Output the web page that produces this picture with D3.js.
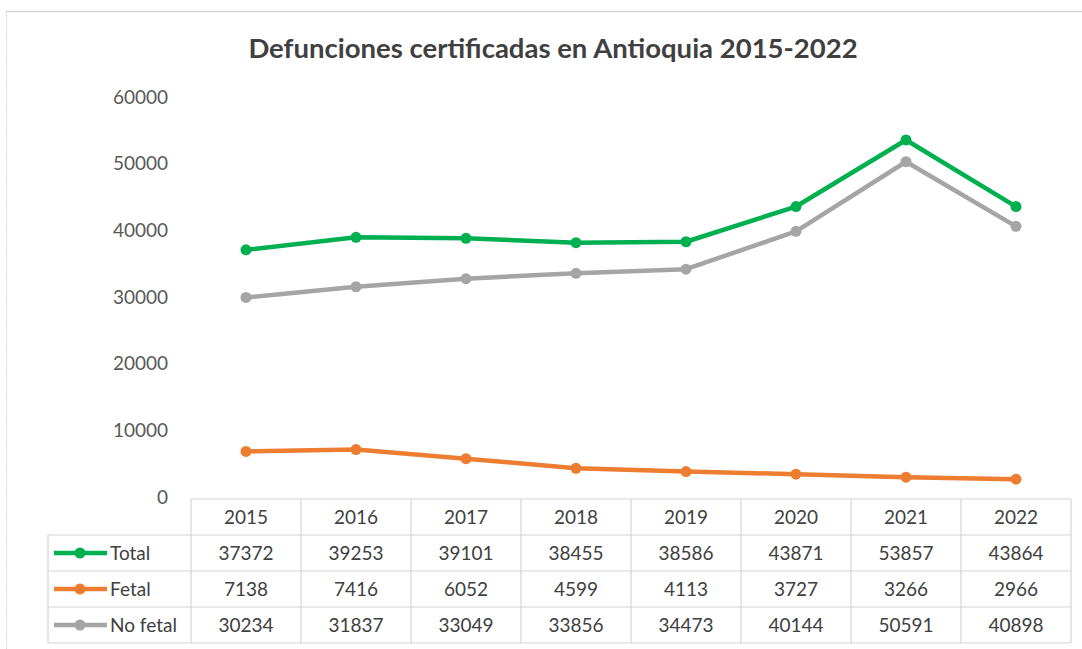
<!DOCTYPE html>
<html>
<head>
<meta charset="utf-8">
<script src="https://cdn.jsdelivr.net/npm/d3@7"></script>
<style>
  body { margin: 0; background: #fff; }
  text { font-family: Lato, "Open Sans", sans-serif; }
</style>
</head>
<body>
<div id="chart"></div>
<script>
// data
const years = ['2015', '2016', '2017', '2018', '2019', '2020', '2021', '2022'];
const total = [37372, 39253, 39101, 38455, 38586, 43871, 53857, 43864];
const fetal = [7138, 7416, 6052, 4599, 4113, 3727, 3266, 2966];
const noFetal = [30234, 31837, 33049, 33856, 34473, 40144, 50591, 40898];
const yTicks = [0, 10000, 20000, 30000, 40000, 50000, 60000];

const series = [
  {name: 'Total', values: total, color: '#00b050'},
  {name: 'Fetal', values: fetal, color: '#ed7d31'},
  {name: 'No fetal', values: noFetal, color: '#a5a5a5'}
];

const W = 1082, H = 649;
const tableLeft = 48, colLeft = 191, colW = 110;
const headTop = 499, rowH = 36;

const svg = d3.select('#chart').append('svg')
  .attr('width', W).attr('height', H);

// chart frame: only top and left edges show in the reference
svg.append('line')
  .attr('x1', 6).attr('x2', W).attr('y1', 11.5).attr('y2', 11.5)
  .attr('stroke', '#d9d9d9').attr('stroke-width', 1.5);
svg.append('line')
  .attr('x1', 6.5).attr('x2', 6.5).attr('y1', 11).attr('y2', H)
  .attr('stroke', '#d9d9d9').attr('stroke-width', 1).attr('stroke-dasharray', '2,1');

svg.append('text')
  .attr('x', 553).attr('y', 58)
  .attr('text-anchor', 'middle')
  .attr('font-size', 27.5).attr('font-weight', 'bold')
  .attr('fill', '#404040')
  .text('Defunciones certificadas en Antioquia 2015-2022');

const x = d3.scaleBand().domain(years)
  .range([colLeft, colLeft + colW * years.length]);
const y = d3.scaleLinear().domain([0, 60000]).range([499, 99]);

// y axis labels only
const yAxis = svg.append('g')
  .attr('transform', 'translate(168,-2)')
  .call(d3.axisLeft(y).tickValues(yTicks).tickSize(0).tickPadding(0).tickFormat(d3.format('d')));
yAxis.select('.domain').remove();
yAxis.selectAll('text')
  .attr('font-size', 19).attr('fill', '#595959')
  .style('font-family', 'Lato, sans-serif');

const line = d3.line()
  .x((d, i) => x(years[i]) + x.bandwidth() / 2)
  .y(d => y(d));

series.forEach(s => {
  svg.append('path')
    .datum(s.values)
    .attr('d', line)
    .attr('fill', 'none')
    .attr('stroke', s.color)
    .attr('stroke-width', 4.5)
    .attr('stroke-linejoin', 'round');
  svg.selectAll(null)
    .data(s.values)
    .enter().append('circle')
    .attr('cx', (d, i) => x(years[i]) + x.bandwidth() / 2)
    .attr('cy', d => y(d))
    .attr('r', 5.5)
    .attr('fill', s.color);
});

// data table
const grid = svg.append('g')
  .attr('stroke', '#d4d4d4').attr('stroke-width', 1.2).attr('fill', 'none');
const right = colLeft + colW * years.length;
const bottom = headTop + rowH * 4;
// horizontal lines
grid.append('line').attr('x1', colLeft).attr('x2', right).attr('y1', headTop).attr('y2', headTop);
for (let r = 1; r <= 4; r++) {
  grid.append('line').attr('x1', tableLeft).attr('x2', right)
    .attr('y1', headTop + rowH * r).attr('y2', headTop + rowH * r);
}
// vertical lines
grid.append('line').attr('x1', tableLeft).attr('x2', tableLeft)
  .attr('y1', headTop + rowH).attr('y2', bottom);
for (let c = 0; c <= years.length; c++) {
  grid.append('line').attr('x1', colLeft + colW * c).attr('x2', colLeft + colW * c)
    .attr('y1', headTop).attr('y2', bottom);
}

svg.selectAll('.yr')
  .data(years)
  .enter().append('text')
  .attr('x', d => x(d) + x.bandwidth() / 2)
  .attr('y', headTop + rowH / 2 + 7)
  .attr('text-anchor', 'middle')
  .attr('font-size', 19).attr('fill', '#404040')
  .text(d => d);

series.forEach((s, r) => {
  const cy = headTop + rowH * (r + 1) + rowH / 2;
  svg.append('line')
    .attr('x1', 54).attr('x2', 107).attr('y1', cy).attr('y2', cy)
    .attr('stroke', s.color).attr('stroke-width', 4.5);
  svg.append('circle').attr('cx', 80).attr('cy', cy).attr('r', 5.5).attr('fill', s.color);
  svg.append('text')
    .attr('x', 110).attr('y', cy + 7)
    .attr('font-size', 19).attr('fill', '#404040')
    .text(s.name);
  svg.selectAll(null)
    .data(s.values)
    .enter().append('text')
    .attr('x', (d, i) => x(years[i]) + x.bandwidth() / 2)
    .attr('y', cy + 7)
    .attr('text-anchor', 'middle')
    .attr('font-size', 19).attr('fill', '#404040')
    .text(d => d);
});
</script>
</body>
</html>
